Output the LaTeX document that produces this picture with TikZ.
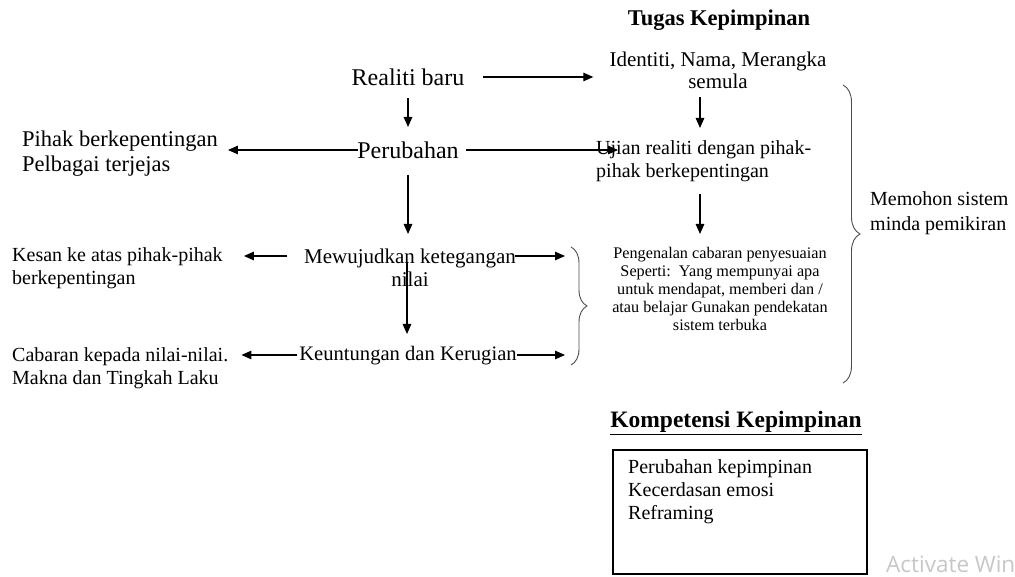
\documentclass[tikz,border=0pt]{standalone}
\usepackage{fontspec}
\setmainfont{Liberation Serif}
\newfontfamily\wmfont{Open Sans}
\usetikzlibrary{arrows.meta,decorations.pathreplacing,calc}

\begin{document}
\begin{tikzpicture}[x=1pt,y=-1pt,
  conn/.style={line width=1.3pt,-{Triangle[length=10pt,width=8.5pt]}},
  lbl/.style={inner sep=0pt,align=center},
  lbll/.style={inner sep=0pt,align=left,anchor=west},
  brc/.style={decorate,line width=0.9pt,draw=black!70},
]
\useasboundingbox (0,0) rectangle (1015,577);

% headings
\node[lbl,font=\bfseries\fontsize{22.5}{24}\selectfont] (tugas) at (719,20) {Tugas Kepimpinan};
\node[lbl,font=\bfseries\fontsize{23.5}{25}\selectfont] (komp) at (736,423) {\underline{Kompetensi Kepimpinan}};

% central column
\node[lbl,font=\fontsize{24}{26}\selectfont] (realiti) at (408,77) {Realiti baru};
\node[lbl,font=\fontsize{24}{26}\selectfont] (perubahan) at (408,150) {Perubahan};
\node[lbl,font=\fontsize{21}{23}\selectfont] (mewujud) at (410,268) {Mewujudkan ketegangan\\nilai};
\node[lbl,font=\fontsize{20.6}{23}\selectfont] (untung) at (408,356) {Keuntungan dan Kerugian};

% left column
\node[lbll,font=\fontsize{22.5}{25}\selectfont] (pihak) at (22,154) {Pihak berkepentingan\\Pelbagai terjejas};
\node[lbll,font=\fontsize{20}{23}\selectfont] (kesan) at (12,268) {Kesan ke atas pihak-pihak\\berkepentingan};
\node[lbll,font=\fontsize{20}{23}\selectfont] (cabaran) at (12,368) {Cabaran kepada nilai-nilai.\\Makna dan Tingkah Laku};

% right column
\node[lbl,font=\fontsize{21}{22}\selectfont] (ident) at (718,70) {Identiti, Nama, Merangka\\semula};
\node[lbll,font=\fontsize{20}{23}\selectfont] (ujian) at (596,161) {Ujian realiti dengan pihak-\\pihak berkepentingan};
\node[lbl,font=\fontsize{16.2}{18.2}\selectfont] (kenal) at (720,289) {Pengenalan cabaran penyesuaian\\Seperti:\ \ Yang mempunyai apa\\untuk mendapat, memberi dan /\\atau belajar Gunakan pendekatan\\sistem terbuka};
\node[lbll,font=\fontsize{20}{25}\selectfont] (memohon) at (870,213) {Memohon sistem\\minda pemikiran};

% competence box
\node[draw,line width=1.5pt,minimum width=254pt,minimum height=124pt,anchor=north west,inner sep=0pt] (kbox) at (612,449) {};
\node[lbll,anchor=north west,font=\fontsize{20}{23}\selectfont] (ktext) at (628,459) {Perubahan kepimpinan\\Kecerdasan emosi\\Reframing};

% connectors
\draw[conn] ($(realiti)+(75,0)$) -- ($(ident.west|-realiti)+(-16,0)$);
\draw[conn] ($(realiti)+(0,21)$) -- ($(perubahan)+(0,-23)$);
\draw[conn] ($(perubahan)+(-50,0)$) -- ($(pihak.east|-perubahan)+(10,0)$);
\draw[conn] ($(perubahan)+(58,0)$) -- ($(ujian.west|-perubahan)+(22,0)$);
\draw[conn] ($(perubahan)+(0,25)$) -- ($(mewujud)+(-2,-34)$);
\draw[conn] ($(ident)+(-18,27)$) -- ($(ident)+(-18,58)$);
\draw[conn] ($(ujian.south west)+(104,12)$) -- ($(kenal)+(-20,-55)$);
\draw[conn] ($(mewujud)+(-123,-12)$) -- ($(kesan.east|-mewujud)+(21,-12)$);
\draw[conn] ($(mewujud)+(105,-12)$) -- ($(mewujud)+(155,-12)$);
\draw[conn] ($(mewujud)+(-3,-6)$) -- ($(untung)+(-1,-22)$);
\draw[conn] ($(untung)+(-111,-1)$) -- ($(cabaran.east|-untung)+(13,-1)$);
\draw[conn] ($(untung)+(109,-1)$) -- ($(untung)+(157,-1)$);

% braces
\draw[brc,decoration={brace,amplitude=16pt}] (571,247) -- (571,365);
\draw[brc,decoration={brace,amplitude=17pt}] (843,85) -- (843,383);

% faint overlay text in the lower corner
\begin{scope}
\clip (0,0) rectangle (1015,577);
\node[lbll,font=\wmfont\fontsize{22.5}{24}\selectfont,text=black!22] (wm) at (886,564) {Activate Win};
\end{scope}
\end{tikzpicture}
\end{document}
